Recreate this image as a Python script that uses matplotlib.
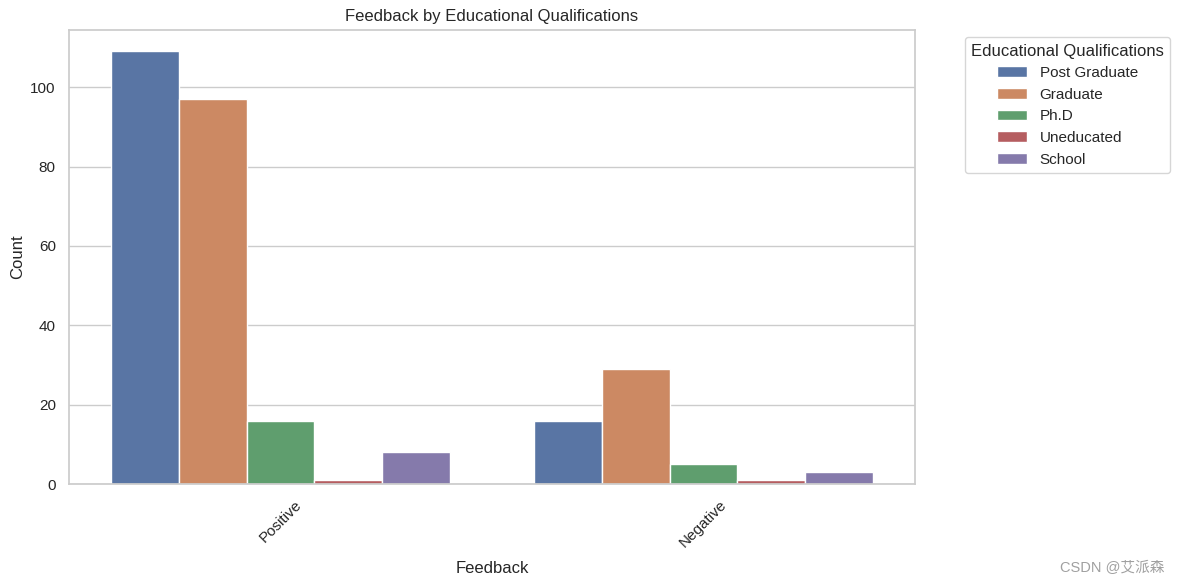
import matplotlib
matplotlib.use("Agg")
import matplotlib.pyplot as plt
import seaborn as sns
import pandas as pd

# Data
feedback = ["Positive", "Negative"]
qualifications = ["Post Graduate", "Graduate", "Ph.D", "Uneducated", "School"]
positive_counts = [109, 97, 16, 1, 8]
negative_counts = [16, 29, 5, 1, 3]

rows = []
for q, p, n in zip(qualifications, positive_counts, negative_counts):
    rows.append({"Feedback": "Positive", "Educational Qualifications": q, "Count": p})
    rows.append({"Feedback": "Negative", "Educational Qualifications": q, "Count": n})
df = pd.DataFrame(rows)

sns.set_theme(style="whitegrid")
plt.rcParams['font.family'] = ['Liberation Sans', 'Noto Sans CJK SC', 'DejaVu Sans']

fig = plt.figure(figsize=(11.79, 5.84), dpi=100)
ax = fig.add_axes([0.0585, 0.171, 0.7175, 0.778])

sns.barplot(data=df, x="Feedback", y="Count", hue="Educational Qualifications",
            order=feedback, hue_order=qualifications, ax=ax)

ax.set_title("Feedback by Educational Qualifications")
ax.set_xlabel("Feedback", labelpad=8)
ax.set_ylabel("Count")
plt.setp(ax.get_xticklabels(), rotation=45)
ax.legend(title="Educational Qualifications", bbox_to_anchor=(1.05, 1), loc="upper left")

fig.text(0.988, 0.016, "CSDN @艾派森", ha="right", va="bottom", fontsize=10.5,
         color="#a0a0a0", family=['Liberation Sans', 'Noto Sans CJK SC'])

fig.savefig("out.png", dpi=100)
